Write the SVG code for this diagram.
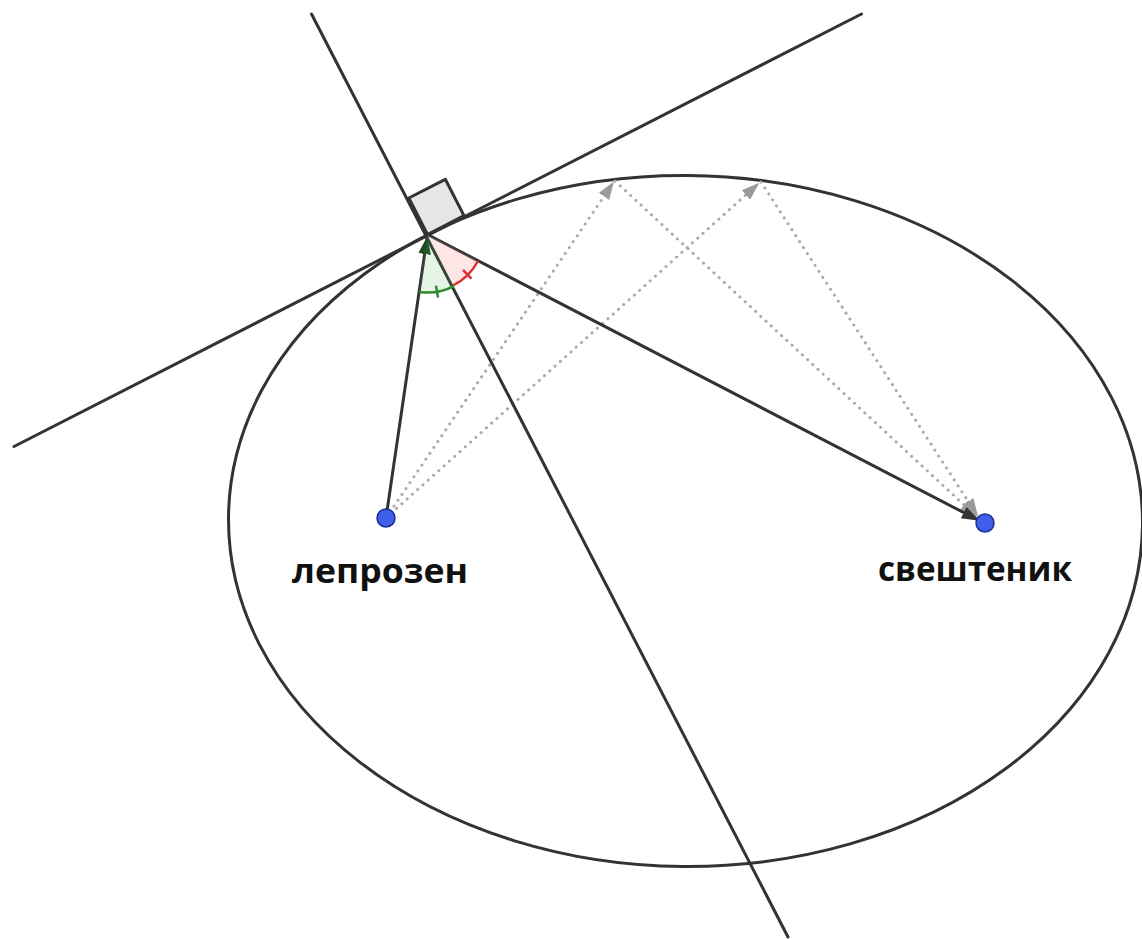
<svg xmlns="http://www.w3.org/2000/svg" width="1142" height="939" viewBox="0 0 1142 939">
<style>
.ln{stroke:#333;stroke-width:3;fill:none;stroke-linecap:round}
.dot{stroke:#aaa;stroke-width:3;fill:none;stroke-dasharray:0.1,7;stroke-linecap:round}
.pt{fill:#3f5fe8;stroke:#1a2f99;stroke-width:1.5}
.lbl{font-family:"Open Sans","Noto Sans","DejaVu Sans",sans-serif;font-weight:bold;font-size:34px;fill:#111}
</style>
<defs>
<marker id="ahDark" viewBox="0 0 10 10" refX="9" refY="5" markerWidth="6" markerHeight="6" orient="auto" markerUnits="strokeWidth">
<path d="M0,1.5 L10,5 L0,8.5 Z" fill="#333"/>
</marker>
<marker id="ahGreen" viewBox="0 0 10 10" refX="9" refY="5" markerWidth="6" markerHeight="6" orient="auto" markerUnits="strokeWidth">
<path d="M0,1.5 L10,5 L0,8.5 Z" fill="#224a22"/>
</marker>
<marker id="ahGray" viewBox="0 0 10 10" refX="9" refY="5" markerWidth="6" markerHeight="6" orient="auto" markerUnits="strokeWidth">
<path d="M0,1.5 L10,5 L0,8.5 Z" fill="#9a9a9a"/>
</marker>
</defs>
<rect width="1142" height="939" fill="#fff"/>
<g id="ellipse">
<ellipse cx="685.5" cy="521" rx="457" ry="345.5" transform="rotate(0.48 685.5 521)" class="ln"/>
</g>
<g id="connectors">
<line x1="386" y1="518" x2="613" y2="183" class="dot" marker-end="url(#ahGray)"/>
<line x1="615" y1="181" x2="976" y2="516" class="dot" marker-end="url(#ahGray)"/>
<line x1="386" y1="518" x2="758" y2="184" class="dot" marker-end="url(#ahGray)"/>
<line x1="761" y1="182" x2="977" y2="515" class="dot" marker-end="url(#ahGray)"/>
<line x1="14" y1="446.5" x2="861.5" y2="14" class="ln"/>
<line x1="311.5" y1="14" x2="788" y2="937" class="ln"/>
<line x1="386" y1="518" x2="427" y2="238" class="ln" marker-end="url(#ahGreen)"/>
<line x1="427.5" y1="234.5" x2="978" y2="520" class="ln" marker-end="url(#ahDark)"/>
</g>
<g id="right-angle">
<path d="M427.5,234.5 L408.8,198 L445.3,179.3 L464,215.6 Z" fill="#e3e3e3" fill-opacity="0.9" stroke="#333" stroke-width="3" stroke-linejoin="round"/>
</g>
<g id="angle-green">
<path d="M427.5,234.5 L419.2,291.9 A58,58 0 0 0 454,286.1 Z" fill="#5ab45a" fill-opacity="0.15" stroke="none"/>
<path d="M419.2,291.9 A58,58 0 0 0 454,286.1" fill="none" stroke="#2e8b2e" stroke-width="2.5"/>
<line x1="436" y1="285.8" x2="438" y2="297.6" stroke="#2e8b2e" stroke-width="2.5"/>
</g>
<g id="angle-red">
<path d="M427.5,234.5 L453.5,285.2 A57,57 0 0 0 478.1,260.7 Z" fill="#ff8080" fill-opacity="0.2" stroke="none"/>
<path d="M453.5,285.2 A57,57 0 0 0 478.1,260.7" fill="none" stroke="#e03030" stroke-width="2.5"/>
<line x1="463" y1="270" x2="471.5" y2="278.6" stroke="#e03030" stroke-width="2.5"/>
</g>
<g id="leper">
<circle cx="386" cy="518" r="9" class="pt"/>
<text x="292" y="583" class="lbl" textLength="176" lengthAdjust="spacingAndGlyphs">лепрозен</text>
</g>
<g id="priest">
<circle cx="985" cy="523" r="9" class="pt"/>
<text x="878" y="581" class="lbl" textLength="194" lengthAdjust="spacingAndGlyphs">свештеник</text>
</g>
</svg>
